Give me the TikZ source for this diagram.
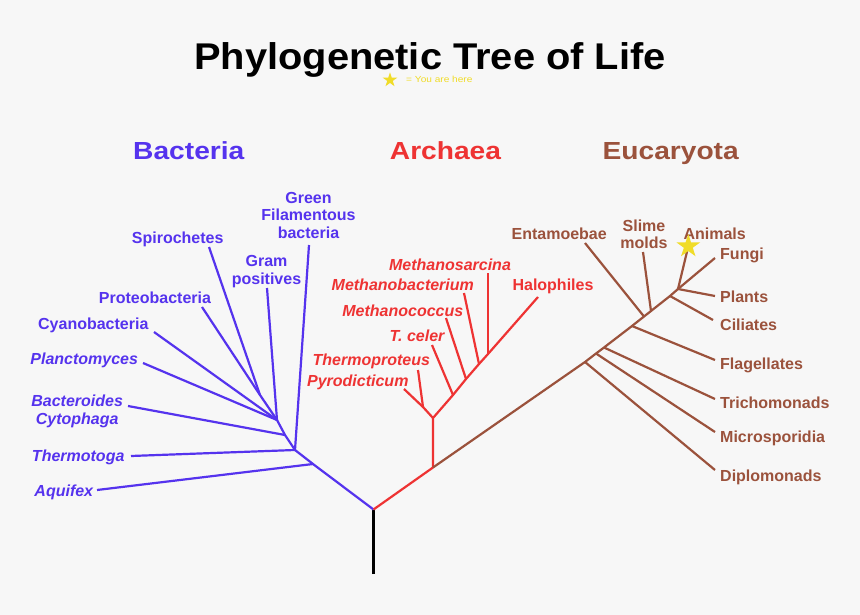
\documentclass[tikz,border=0pt]{standalone}
\usepackage{fontspec}
\usepackage{graphicx}
\setsansfont{Liberation Sans}
\usetikzlibrary{shapes.geometric}
\definecolor{bactblue}{RGB}{85,51,238}
\definecolor{archred}{RGB}{238,51,51}
\definecolor{eucbrown}{RGB}{155,82,60}
\definecolor{staryellow}{RGB}{240,220,40}
\definecolor{paper}{RGB}{247,247,247}
\begin{document}
\begin{tikzpicture}[x=1pt, y=-1pt,
  every node/.style={inner sep=0pt},
  leaf/.style={font=\sffamily\bfseries\fontsize{16}{17.5}\selectfont, align=center},
  species/.style={font=\sffamily\bfseries\itshape\fontsize{16}{17.5}\selectfont, align=center},
  heading/.style={font=\sffamily\bfseries\fontsize{24.7}{28}\selectfont, anchor=base},
  branch/.style={line width=2.2pt, line join=round},
  here/.style={star, star points=5, star point ratio=2.618, fill=staryellow, draw=none}]
  % Canvas
  \fill[paper] (0,0) rectangle (860,615);
  % Title and legend
  \node[anchor=base, font=\sffamily\bfseries\fontsize{37.2}{40}\selectfont] (title) at (430,69.3)
    {\scalebox{1.071}[1]{Phylogenetic Tree of Life}};
  \node[here, minimum size=15.4pt] (legstar) at (390,80) {};
  \node[anchor=base west, text=staryellow, font=\sffamily\fontsize{8.8}{10}\selectfont] (legend) at (406,82.3)
    {\scalebox{1.15}[1]{= You are here}};
  % Domain headings
  \node[heading, text=bactblue] (bacteria) at (188.8,159.5) {\scalebox{1.14}[1]{Bacteria}};
  \node[heading, text=archred] (archaea) at (445.5,159.5) {\scalebox{1.14}[1]{Archaea}};
  \node[heading, text=eucbrown] (eucaryota) at (670.7,159.5) {\scalebox{1.14}[1]{Eucaryota}};
  % Root
  \coordinate (base) at (373.5,574);
  \coordinate (root) at (373.5,509.5);
  \draw[branch, black] (base) -- (root);

  % Bacteria
  \begin{scope}[bactblue]
    \coordinate (b-aq) at (313,464);
    \coordinate (b-th) at (295,450);
    \coordinate (b-ba) at (285,435);
    \coordinate (b-gp) at (277,420);
    \coordinate (b-sp) at (260,395);
    \coordinate (green-tip) at (309,245);
    \coordinate (gram-tip) at (267,288);
    \coordinate (spiro-tip) at (209,247);
    \coordinate (proteo-tip) at (202,307);
    \coordinate (cyano-tip) at (154,332);
    \coordinate (plancto-tip) at (143,363);
    \coordinate (bactero-tip) at (128,406);
    \coordinate (thermotoga-tip) at (131,456);
    \coordinate (aquifex-tip) at (97,490);
    \draw[branch] (root) -- (b-aq) -- (b-th) -- (b-ba) -- (b-gp);
    \draw[branch] (b-aq) -- (aquifex-tip);
    \draw[branch] (b-th) -- (thermotoga-tip);
    \draw[branch] (b-th) -- (green-tip);
    \draw[branch] (b-ba) -- (bactero-tip);
    \draw[branch] (b-gp) -- (gram-tip);
    \draw[branch] (b-gp) -- (plancto-tip);
    \draw[branch] (b-gp) -- (cyano-tip);
    \draw[branch] (b-gp) -- (b-sp) -- (proteo-tip);
    \draw[branch] (b-sp) -- (spiro-tip);
    \node[leaf] (green) at (308.5,215.2) {Green\\Filamentous\\bacteria};
    \node[leaf] (gram) at (266.5,271.4) {Gram\\positives};
    \node[leaf, anchor=base] (spiro) at (177.7,243.4) {Spirochetes};
    \node[leaf, anchor=base] (proteo) at (155,303.4) {Proteobacteria};
    \node[leaf, anchor=base] (cyano) at (93.3,329.2) {Cyanobacteria};
    \node[species, anchor=base] (plancto) at (84.2,364.2) {Planctomyces};
    \node[species] (bactero) at (77.2,411.4) {Bacteroides\\Cytophaga};
    \node[species, anchor=base] (thermotoga) at (78.2,461.6) {Thermotoga};
    \node[species, anchor=base] (aquifex) at (63.8,496.6) {Aquifex};
  \end{scope}

  % Archaea
  \begin{scope}[archred]
    \coordinate (a-root) at (433,467.5);
    \coordinate (a-up) at (433,418);
    \coordinate (a-py) at (423,407);
    \coordinate (a-tc) at (453,395);
    \coordinate (a-mc) at (466,379);
    \coordinate (a-mb) at (479,364);
    \coordinate (a-ms) at (488,354);
    \coordinate (pyro-tip) at (404,389);
    \coordinate (thermop-tip) at (418,370);
    \coordinate (tceler-tip) at (432,345);
    \coordinate (mcoccus-tip) at (446,318);
    \coordinate (mbact-tip) at (464,293);
    \coordinate (msarc-tip) at (488,273);
    \coordinate (halo-tip) at (538,297);
    \draw[branch] (root) -- (a-root) -- (a-up) -- (a-tc) -- (a-mc) -- (a-mb) -- (a-ms) -- (halo-tip);
    \draw[branch] (a-up) -- (a-py) -- (pyro-tip);
    \draw[branch] (a-py) -- (thermop-tip);
    \draw[branch] (a-tc) -- (tceler-tip);
    \draw[branch] (a-mc) -- (mcoccus-tip);
    \draw[branch] (a-mb) -- (mbact-tip);
    \draw[branch] (a-ms) -- (msarc-tip);
    \node[species, anchor=base] (msarc) at (450,270) {Methanosarcina};
    \node[species, anchor=base] (mbact) at (402.8,290.7) {Methanobacterium};
    \node[species, anchor=base] (mcoccus) at (402.8,316) {Methanococcus};
    \node[species, anchor=base] (tceler) at (417,341.7) {T. celer};
    \node[species, anchor=base] (thermop) at (371.3,365.3) {Thermoproteus};
    \node[species, anchor=base] (pyro) at (357.8,386.7) {Pyrodicticum};
    \node[leaf, anchor=base] (halo) at (553,290.7) {Halophiles};
  \end{scope}

  % Eucaryota
  \begin{scope}[eucbrown]
    \coordinate (e-di) at (585,362);
    \coordinate (e-mi) at (596,353.5);
    \coordinate (e-tr) at (604,347.5);
    \coordinate (e-fl) at (632,326);
    \coordinate (e-en) at (644,316.5);
    \coordinate (e-sl) at (651,311);
    \coordinate (e-ci) at (670,296);
    \coordinate (e-an) at (678,289);
    \coordinate (diplo-tip) at (715,470);
    \coordinate (micro-tip) at (715,432);
    \coordinate (tricho-tip) at (715,399);
    \coordinate (flag-tip) at (715,360);
    \coordinate (cil-tip) at (713,320);
    \coordinate (plant-tip) at (715,296);
    \coordinate (fungi-tip) at (715,258);
    \coordinate (anim-tip) at (688.3,246.3);
    \coordinate (slime-tip) at (643,252);
    \coordinate (entam-tip) at (585,243);
    \draw[branch] (a-root) -- (e-di) -- (e-mi) -- (e-tr) -- (e-fl) -- (e-en) -- (e-sl) -- (e-ci) -- (e-an);
    \draw[branch] (e-di) -- (diplo-tip);
    \draw[branch] (e-mi) -- (micro-tip);
    \draw[branch] (e-tr) -- (tricho-tip);
    \draw[branch] (e-fl) -- (flag-tip);
    \draw[branch] (e-en) -- (entam-tip);
    \draw[branch] (e-sl) -- (slime-tip);
    \draw[branch] (e-ci) -- (cil-tip);
    \draw[branch] (e-an) -- (plant-tip);
    \draw[branch] (e-an) -- (fungi-tip);
    \draw[branch] (e-an) -- (anim-tip);
    \node[leaf, anchor=base] (entam) at (559.2,239.3) {Entamoebae};
    \node[leaf] (slime) at (644,234.5) {Slime\\molds};
    \node[leaf, anchor=base] (animals) at (714.7,239.3) {Animals};
    \node[leaf, anchor=base west] (fungi) at (720,259.3) {Fungi};
    \node[leaf, anchor=base west] (plants) at (720,302.7) {Plants};
    \node[leaf, anchor=base west] (ciliates) at (720,330) {Ciliates};
    \node[leaf, anchor=base west] (flag) at (720,369.3) {Flagellates};
    \node[leaf, anchor=base west] (tricho) at (720,408.3) {Trichomonads};
    \node[leaf, anchor=base west] (micro) at (720,442.3) {Microsporidia};
    \node[leaf, anchor=base west] (diplo) at (720,481.7) {Diplomonads};
  \end{scope}
  % You are here
  \node[here, minimum size=24.6pt] (you) at (anim-tip) {};
\end{tikzpicture}
\end{document}
